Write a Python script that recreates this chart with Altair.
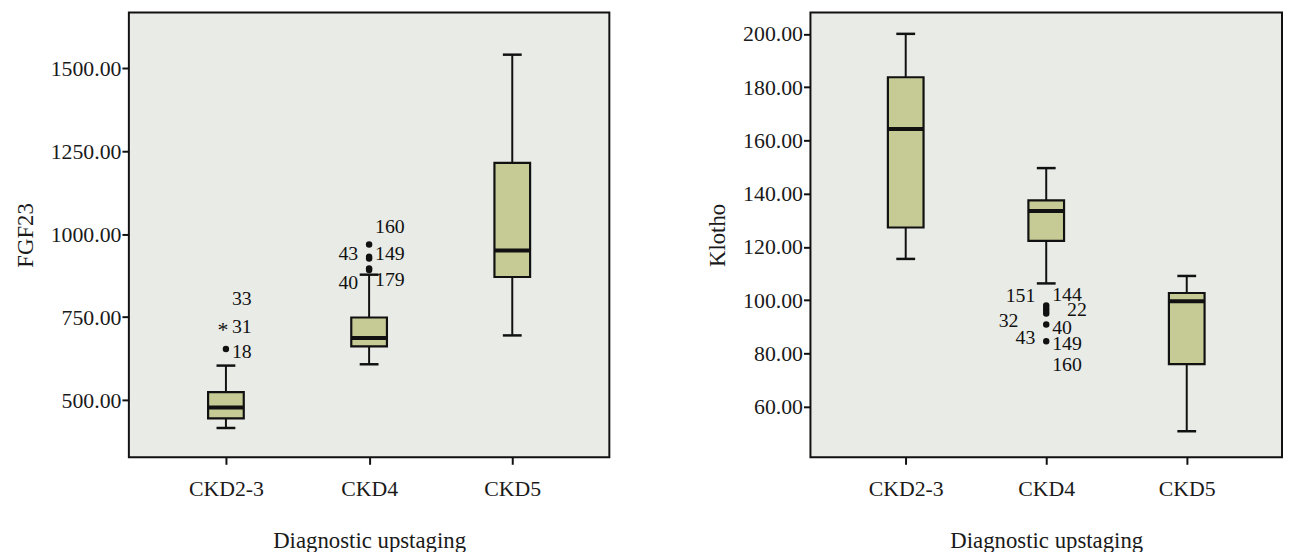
import altair as alt
import pandas as pd

groups = ["CKD2-3", "CKD4", "CKD5"]

# ---- FGF23 panel (box statistics) ----
fgf_low = [416, 608, 695]
fgf_q1 = [445, 662, 871]
fgf_median = [478, 687, 951]
fgf_q3 = [524, 749, 1215]
fgf_high = [604, 878, 1541]
# outliers (dots) and extreme outliers (stars)
fgf_out_group = ["CKD2-3", "CKD4", "CKD4", "CKD4", "CKD4", "CKD4"]
fgf_out_value = [654, 969, 932, 927, 897, 892]
fgf_ext_group = ["CKD2-3"]
fgf_ext_value = [736]
# case labels
fgf_lab_group = ["CKD2-3", "CKD2-3", "CKD2-3", "CKD4", "CKD4", "CKD4", "CKD4", "CKD4"]
fgf_lab_text = ["18", "31", "33", "160", "149", "179", "43", "40"]
fgf_lab_value = [644, 719, 806, 1023, 939, 862, 939, 853]
fgf_lab_side = ["R", "R", "R", "R", "R", "R", "L", "L"]
fgf_ticks = [500, 750, 1000, 1250, 1500]

# ---- Klotho panel ----
kl_low = [115.5, 106.3, 50.8]
kl_q1 = [127.3, 122.3, 76.0]
kl_median = [164.3, 133.5, 99.6]
kl_q3 = [183.7, 137.5, 102.7]
kl_high = [200.0, 149.6, 109.1]
kl_out_group = ["CKD4", "CKD4", "CKD4", "CKD4", "CKD4", "CKD4"]
kl_out_value = [98.0, 97.0, 96.0, 95.0, 90.9, 84.6]
kl_ext_group = []
kl_ext_value = []
kl_lab_group = ["CKD4"] * 8
kl_lab_text = ["151", "144", "22", "32", "40", "43", "149", "160"]
kl_lab_value = [101.6, 102.1, 96.4, 92.3, 89.5, 85.8, 83.4, 75.6]
kl_lab_side = ["L", "R", "RR", "LL", "R", "L", "R", "R"]
kl_ticks = [60, 80, 100, 120, 140, 160, 180, 200]

FONT = "Liberation Serif"
BOX_FILL = "#c6cb96"
INK = "#111111"
SIDE_DX = {"R": 6, "RR": 21, "L": -11, "LL": -28}
SIDE_ALIGN = {"R": "left", "RR": "left", "L": "right", "LL": "right"}


def panel(title, low, q1, med, q3, high, og, ov, eg, ev, lg, lt, lv, ls,
          ticks, domain, width):
    box = pd.DataFrame({"g": groups, "low": low, "q1": q1, "med": med,
                        "q3": q3, "high": high})
    outs = pd.DataFrame({"g": og, "v": ov})
    ext = pd.DataFrame({"g": eg, "v": ev})
    labs = pd.DataFrame({"g": lg, "t": lt, "v": lv, "side": ls})

    xenc = alt.X("g:N", sort=groups,
                 scale=alt.Scale(type="point", domain=groups, padding=0.678),
                 axis=alt.Axis(title="Diagnostic upstaging", labelAngle=0,
                               labelPadding=15, titlePadding=30))

    def Y(field):
        return alt.Y(field, type="quantitative", title=title,
                     scale=alt.Scale(domain=domain, nice=False, zero=False),
                     axis=alt.Axis(values=ticks, format=".2f",
                                   labelPadding=1, titlePadding=13))

    whisk = alt.Chart(box).mark_rule(color=INK, strokeWidth=2).encode(
        x=xenc, y=Y("low"), y2="high")
    bar = alt.Chart(box).mark_bar(size=36, fill=BOX_FILL, stroke=INK,
                                  strokeWidth=2.2, opacity=1).encode(
        x=xenc, y=Y("q1"), y2="q3")
    median = alt.Chart(box).mark_tick(size=36, thickness=4, color=INK,
                                      opacity=1).encode(
        x=xenc, y=Y("med"))
    cap_lo = alt.Chart(box).mark_tick(size=19, thickness=2.5, color=INK,
                                      opacity=1).encode(
        x=xenc, y=Y("low"))
    cap_hi = alt.Chart(box).mark_tick(size=19, thickness=2.5, color=INK,
                                      opacity=1).encode(
        x=xenc, y=Y("high"))
    dots = alt.Chart(outs).mark_circle(size=42, color=INK, opacity=1).encode(
        x=xenc, y=Y("v"))
    layers = [whisk, bar, median, cap_lo, cap_hi, dots]
    if len(ext):
        stars = alt.Chart(ext).mark_text(text="*", font=FONT, fontSize=22,
                                         color=INK, dx=-3, dy=8,
                                         baseline="middle").encode(
            x=xenc, y=Y("v"))
        layers.append(stars)
    for side in ["R", "RR", "L", "LL"]:
        sub = labs[labs["side"] == side]
        if len(sub) == 0:
            continue
        layers.append(
            alt.Chart(sub).mark_text(font=FONT, fontSize=20, color=INK,
                                     align=SIDE_ALIGN[side], baseline="middle",
                                     dx=SIDE_DX[side]).encode(
                x=xenc, y=Y("v"), text="t:N"))
    return alt.layer(*layers).properties(width=width, height=449)


left = panel("FGF23", fgf_low, fgf_q1, fgf_median, fgf_q3, fgf_high,
             fgf_out_group, fgf_out_value, fgf_ext_group, fgf_ext_value,
             fgf_lab_group, fgf_lab_text, fgf_lab_value, fgf_lab_side,
             fgf_ticks, [327.5, 1668], 485)
right = panel("Klotho", kl_low, kl_q1, kl_median, kl_q3, kl_high,
              kl_out_group, kl_out_value, kl_ext_group, kl_ext_value,
              kl_lab_group, kl_lab_text, kl_lab_value, kl_lab_side,
              kl_ticks, [41.0, 208.0], 476)

chart = alt.hconcat(left, right, spacing=96).properties(
    padding={"left": 5, "top": 1, "right": 0, "bottom": 0},
    background="white",
).configure_view(
    fill="#e9ebe6", stroke=INK, strokeWidth=2
).configure_axis(
    labelFont=FONT, labelFontSize=22, labelColor="#1a1a1a",
    titleFont=FONT, titleFontSize=23, titleFontWeight="normal",
    titleColor="#1a1a1a", tickColor=INK, tickWidth=2, tickSize=7,
    domain=False, grid=False,
)

chart.save("out.html", embed_options={"renderer": "svg", "actions": False})
